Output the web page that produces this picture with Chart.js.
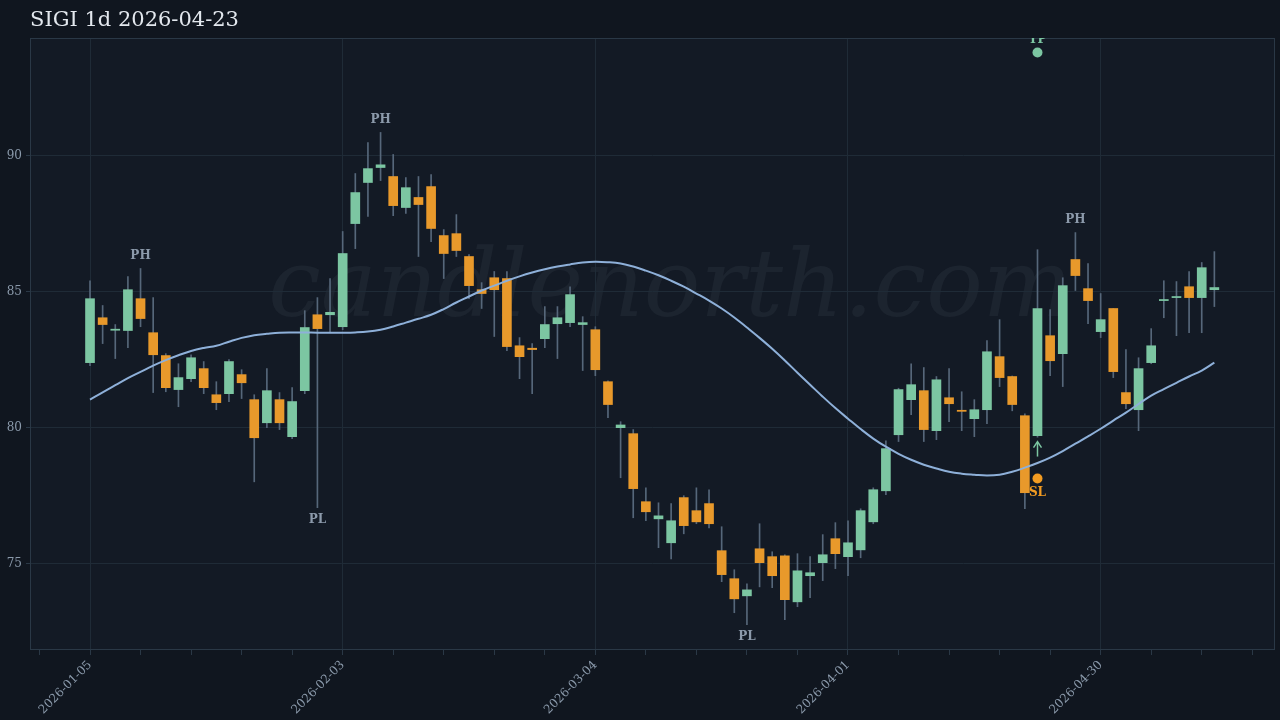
<!DOCTYPE html>
<html><head><meta charset="utf-8">
<script src="https://cdn.jsdelivr.net/npm/chart.js@4/dist/chart.umd.min.js"></script>
<style>html,body{margin:0;padding:0;background:#10161f;}canvas{display:block;}</style>
</head><body>
<canvas id="c" width="1280" height="720"></canvas>
<script>
const title = "SIGI 1d 2026-04-23";
const tickLabels = {0:"2026-01-05",20:"2026-02-03",40:"2026-03-04",60:"2026-04-01",80:"2026-04-30"};
const opens  = [82.39,84.04,83.58,83.57,84.74,83.49,82.65,81.40,81.80,82.17,81.21,81.25,81.95,81.03,80.18,81.03,79.67,81.36,84.15,84.15,83.71,87.50,89.01,89.56,89.23,88.09,88.46,88.86,87.06,87.13,86.29,85.07,85.51,85.48,83.01,82.92,83.27,83.82,83.86,83.79,83.60,81.69,80.00,79.78,77.28,76.65,75.77,77.43,76.95,77.21,75.48,74.45,73.82,75.55,75.26,75.29,73.60,74.56,75.04,75.92,75.26,75.51,76.54,77.68,79.74,81.03,81.36,79.89,81.10,80.64,80.33,80.66,82.61,81.88,80.44,79.71,83.38,82.72,86.18,85.11,83.53,84.38,81.29,80.66,82.39,84.67,84.78,85.18,84.78,85.07];
const closes = [84.74,83.79,83.62,85.07,84.01,82.68,81.47,81.84,82.57,81.47,80.92,82.43,81.65,79.63,81.36,80.18,80.96,83.68,83.64,84.24,86.40,88.64,89.52,89.66,88.16,88.82,88.20,87.32,86.40,86.51,85.22,84.93,85.07,82.98,82.61,82.87,83.79,84.04,84.89,83.86,82.13,80.85,80.10,77.76,76.91,76.76,76.58,76.40,76.54,76.47,74.60,73.71,74.04,75.04,74.56,73.68,74.74,74.67,75.33,75.37,75.77,76.95,77.72,79.23,81.40,81.58,79.93,81.76,80.88,80.60,80.66,82.79,81.84,80.85,77.61,84.38,82.46,85.22,85.59,84.67,83.97,82.06,80.88,82.17,83.01,84.71,84.82,84.78,85.88,85.15];
const highs  = [85.40,84.49,83.79,85.55,85.85,84.78,82.72,82.35,82.68,82.43,81.69,82.50,82.13,81.21,82.17,81.29,81.47,84.30,84.78,85.48,87.21,89.34,90.48,90.85,90.04,89.19,89.23,89.30,87.28,87.83,86.36,85.33,85.74,85.74,83.31,83.09,84.45,84.45,85.18,84.08,83.71,81.72,80.22,79.93,77.79,77.24,77.21,77.50,77.79,77.72,76.36,74.78,74.26,76.47,75.44,75.33,75.37,75.26,76.07,76.51,76.58,77.02,77.79,79.52,81.45,82.35,82.21,81.88,82.17,81.32,81.03,83.20,83.97,81.90,80.51,86.54,84.34,85.51,87.17,86.03,84.93,84.38,82.87,82.57,83.64,85.40,85.37,85.74,86.07,86.47];
const lows   = [82.28,83.09,82.54,82.94,83.71,81.29,81.32,80.77,81.69,81.25,80.66,80.96,81.07,78.01,80.00,79.93,79.60,81.25,77.06,83.49,83.60,86.58,87.76,89.08,87.79,87.87,86.29,86.84,85.48,86.29,84.74,84.38,83.35,82.83,81.80,81.25,82.94,82.54,83.71,82.10,81.91,80.37,78.16,76.69,76.58,75.59,75.18,76.10,76.47,76.32,74.34,73.20,72.76,74.15,74.12,72.94,73.42,73.75,74.38,74.82,74.56,75.22,76.47,77.54,79.49,80.48,79.49,79.56,80.22,79.89,79.67,80.15,81.51,80.62,77.02,79.65,81.91,81.51,85.04,83.82,83.31,81.84,80.70,79.89,82.35,84.04,83.38,83.49,83.49,84.45];
const ma = [81.03,81.30,81.56,81.82,82.05,82.28,82.48,82.66,82.82,82.93,83.01,83.16,83.30,83.40,83.45,83.49,83.50,83.50,83.49,83.49,83.49,83.50,83.53,83.60,83.72,83.86,84.00,84.15,84.36,84.60,84.82,85.04,85.22,85.40,85.56,85.70,85.82,85.92,86.00,86.07,86.10,86.08,86.03,85.92,85.77,85.60,85.40,85.18,84.93,84.67,84.38,84.05,83.68,83.30,82.90,82.47,82.02,81.58,81.14,80.72,80.33,79.95,79.60,79.30,79.04,78.82,78.64,78.50,78.38,78.31,78.27,78.24,78.27,78.38,78.53,78.70,78.90,79.14,79.41,79.68,79.96,80.26,80.55,80.87,81.18,81.42,81.65,81.88,82.10,82.39];
const pivotHigh = [4,23,78];
const pivotLow = [18,52];
const signalIdx = 75, tpPrice = 93.79, slPrice = 78.13;

const GREEN = "#7cc6a2", ORANGE = "#e8992b";
const idx = opens.map((_, i) => i);
const bodies = idx.map(i => ({x:i, y:[opens[i], closes[i]]}));
const wicks = idx.map(i => ({x:i, y:[lows[i], highs[i]]}));
const bodyColors = idx.map(i => closes[i] >= opens[i] ? GREEN : ORANGE);
const maData = idx.map(i => ({x:i, y:ma[i]}));
const SERIF = "'DejaVu Serif', serif";

const deco = {
  id:'deco',
  beforeDraw(ch){
    const {ctx, chartArea:a} = ch;
    ctx.save();
    ctx.fillStyle = "#131a25";
    ctx.fillRect(a.left, a.top, a.right-a.left, a.bottom-a.top);
    ctx.font = "italic 94px " + SERIF;
    ctx.fillStyle = "rgba(150,170,190,0.07)";
    ctx.textAlign = "center"; ctx.textBaseline = "middle";
    ctx.fillText("candlenorth.com", 670, 292);
    ctx.restore();
  },
  afterDraw(ch){
    const {ctx, chartArea:a} = ch;
    const xs = ch.scales.x, ys = ch.scales.y;
    ctx.save();
    ctx.strokeStyle = "#2a3846"; ctx.lineWidth = 1;
    ctx.strokeRect(a.left+0.5, a.top+0.5, a.right-a.left-1, a.bottom-a.top-1);
    ctx.font = "21px " + SERIF; ctx.fillStyle = "#e3e8ee";
    ctx.textAlign = "left"; ctx.textBaseline = "middle";
    ctx.fillText(title, 30, 21);
    ctx.font = "bold 12px " + SERIF; ctx.fillStyle = "#8c9aab"; ctx.textAlign = "center";
    pivotHigh.forEach(i => ctx.fillText("PH", xs.getPixelForValue(i), ys.getPixelForValue(highs[i]) - 13));
    pivotLow.forEach(i => ctx.fillText("PL", xs.getPixelForValue(i), ys.getPixelForValue(lows[i]) + 12));
    ctx.beginPath(); ctx.rect(a.left, a.top, a.right-a.left, a.bottom-a.top); ctx.clip();
    const sx = xs.getPixelForValue(signalIdx);
    const ty = ys.getPixelForValue(tpPrice), sy = ys.getPixelForValue(slPrice);
    ctx.fillStyle = GREEN; ctx.beginPath(); ctx.arc(sx, ty, 5, 0, Math.PI*2); ctx.fill();
    ctx.fillText("TP", sx, ty - 13);
    ctx.fillStyle = "#f39c22"; ctx.beginPath(); ctx.arc(sx, sy, 5, 0, Math.PI*2); ctx.fill();
    ctx.fillText("SL", sx, sy + 14);
    ctx.strokeStyle = GREEN; ctx.fillStyle = GREEN; ctx.lineWidth = 1.5;
    ctx.beginPath(); ctx.moveTo(sx, sy-22); ctx.lineTo(sx, sy-36); ctx.stroke();
    ctx.beginPath(); ctx.moveTo(sx-4, sy-31); ctx.lineTo(sx, sy-37); ctx.lineTo(sx+4, sy-31); ctx.stroke();
    ctx.restore();
  }
};

new Chart(document.getElementById('c'), {
  type:'bar',
  data:{datasets:[
    {type:'line', data:maData, borderColor:"#8eb0d9", borderWidth:2, pointRadius:0, tension:0.4, order:0},
    {data:bodies, backgroundColor:bodyColors, borderColor:bodyColors, borderWidth:0, barThickness:9, grouped:false, order:1, borderSkipped:false},
    {data:wicks, backgroundColor:"#56677a", barThickness:1, grouped:false, order:2}
  ]},
  options:{
    responsive:false, animation:false,
    layout:{padding:{top:38, right:5, left:0}},
    plugins:{legend:{display:false}, tooltip:{enabled:false}},
    scales:{
      x:{type:'linear', min:-4.75, max:93.8, offset:false,
        afterBuildTicks(s){ const t=[]; for(let v=-4; v<=92; v+=4) t.push({value:v}); s.ticks=t; },
        afterFit(s){ s.height = 70; },
        ticks:{autoSkip:false, maxRotation:45, minRotation:45, color:"#8a99aa", font:{family:SERIF, size:12},
          callback:(v)=> tickLabels[v] || ""},
        grid:{offset:false, color:(c)=> (c.tick && tickLabels[c.tick.value]) ? "#1f2b37" : "rgba(0,0,0,0)", tickColor:"#2a3846", tickLength:5, drawOnChartArea:true},
        border:{display:false}
      },
      y:{min:71.83, max:94.32,
        afterBuildTicks(s){ s.ticks=[75,80,85,90].map(v=>({value:v})); },
        afterFit(s){ s.width = 30; },
        ticks:{color:"#8a99aa", font:{family:SERIF, size:12}, padding:4},
        grid:{color:"#1f2b37", tickLength:4, tickColor:"#2a3846"},
        border:{display:false}
      }
    }
  },
  plugins:[deco]
});
</script>
</body></html>
